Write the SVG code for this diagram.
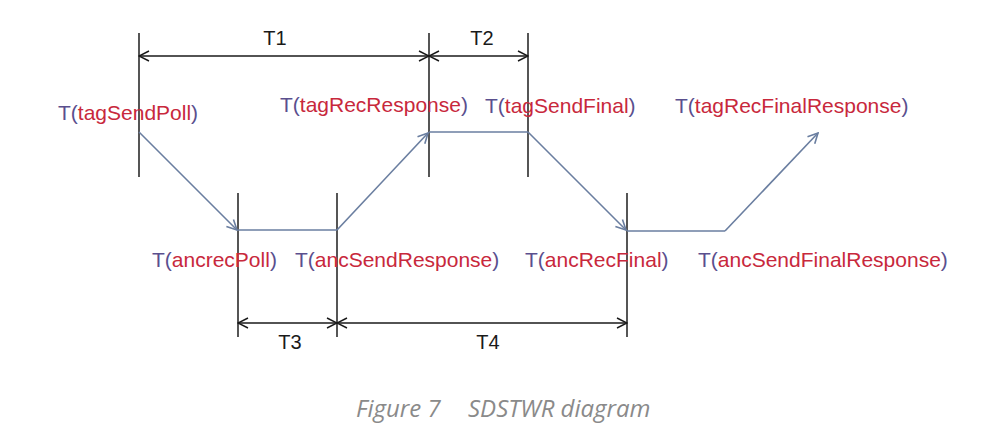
<svg xmlns="http://www.w3.org/2000/svg" width="1000" height="439" viewBox="0 0 1000 439">
<style>
.lbl{font-family:"Liberation Sans",Arial,sans-serif;font-size:21px;fill:#c8283c}
.par{fill:#5a4f8e}
.dim{font-family:"Liberation Sans",Arial,sans-serif;font-size:20px;fill:#1a1a1a;text-anchor:middle}
.vl{stroke:#2b2b2b;stroke-width:1.6;fill:none}
.cn{stroke:#6a7ea0;stroke-width:1.6;fill:none}
.dl{stroke:#1a1a1a;stroke-width:1.4;fill:none}
.cap{font-family:"Open Sans",sans-serif;font-style:italic;font-size:24px;fill:#8a8a8a}
</style>
<defs>
<marker id="ah" viewBox="0 0 12 12" refX="11" refY="6" markerWidth="12" markerHeight="12" markerUnits="userSpaceOnUse" orient="auto">
<path d="M1,1 L11,6 L1,11" fill="none" stroke="#6a7ea0" stroke-width="1.6"/>
</marker>
<marker id="de" viewBox="0 0 12 12" refX="11" refY="6" markerWidth="12" markerHeight="12" markerUnits="userSpaceOnUse" orient="auto-start-reverse">
<path d="M1,1 L11,6 L1,11" fill="none" stroke="#1a1a1a" stroke-width="1.4"/>
</marker>
</defs>
<rect width="1000" height="439" fill="#ffffff"/>

<g id="tagSendPoll">
<line class="vl" x1="139" y1="33" x2="139" y2="177"/>
<text class="lbl" x="58" y="120"><tspan class="par">T(</tspan>tagSendPoll<tspan class="par">)</tspan></text>
</g>
<g id="tagRecResponse">
<line class="vl" x1="429" y1="33" x2="429" y2="177"/>
<text class="lbl" x="280" y="112"><tspan class="par">T(</tspan>tagRecResponse<tspan class="par">)</tspan></text>
</g>
<g id="tagSendFinal">
<line class="vl" x1="528" y1="33" x2="528" y2="177"/>
<text class="lbl" x="485" y="113"><tspan class="par">T(</tspan>tagSendFinal<tspan class="par">)</tspan></text>
</g>
<g id="tagRecFinalResponse">
<text class="lbl" x="675" y="113"><tspan class="par">T(</tspan>tagRecFinalResponse<tspan class="par">)</tspan></text>
</g>
<g id="ancrecPoll">
<line class="vl" x1="238" y1="193" x2="238" y2="337"/>
<text class="lbl" x="152" y="267"><tspan class="par">T(</tspan>ancrecPoll<tspan class="par">)</tspan></text>
</g>
<g id="ancSendResponse">
<line class="vl" x1="337" y1="193" x2="337" y2="337"/>
<text class="lbl" x="295" y="267"><tspan class="par">T(</tspan>ancSendResponse<tspan class="par">)</tspan></text>
</g>
<g id="ancRecFinal">
<line class="vl" x1="627" y1="193" x2="627" y2="337"/>
<text class="lbl" x="525" y="267"><tspan class="par">T(</tspan>ancRecFinal<tspan class="par">)</tspan></text>
</g>
<g id="ancSendFinalResponse">
<text class="lbl" x="698" y="267"><tspan class="par">T(</tspan>ancSendFinalResponse<tspan class="par">)</tspan></text>
</g>

<g id="connectors">
<line class="cn" x1="139" y1="132" x2="237" y2="230" marker-end="url(#ah)"/>
<line class="cn" x1="238" y1="230" x2="337" y2="230"/>
<line class="cn" x1="337" y1="230" x2="428" y2="133" marker-end="url(#ah)"/>
<line class="cn" x1="429" y1="132" x2="528" y2="132"/>
<line class="cn" x1="528" y1="132" x2="626" y2="230" marker-end="url(#ah)"/>
<line class="cn" x1="627" y1="231" x2="725" y2="231"/>
<line class="cn" x1="725" y1="231" x2="818" y2="133" marker-end="url(#ah)"/>
</g>

<g id="dimensions">
<line class="dl" x1="139" y1="56" x2="429" y2="56" marker-start="url(#de)" marker-end="url(#de)"/>
<line class="dl" x1="429" y1="56" x2="528" y2="56" marker-start="url(#de)" marker-end="url(#de)"/>
<line class="dl" x1="238" y1="323" x2="337" y2="323" marker-start="url(#de)" marker-end="url(#de)"/>
<line class="dl" x1="337" y1="323" x2="627" y2="323" marker-start="url(#de)" marker-end="url(#de)"/>
<text class="dim" x="275" y="45">T1</text>
<text class="dim" x="482" y="45">T2</text>
<text class="dim" x="290" y="349">T3</text>
<text class="dim" x="488" y="349">T4</text>
</g>

<text class="cap" x="356" y="417">Figure 7</text>
<text class="cap" x="468" y="417">SDSTWR diagram</text>
</svg>
